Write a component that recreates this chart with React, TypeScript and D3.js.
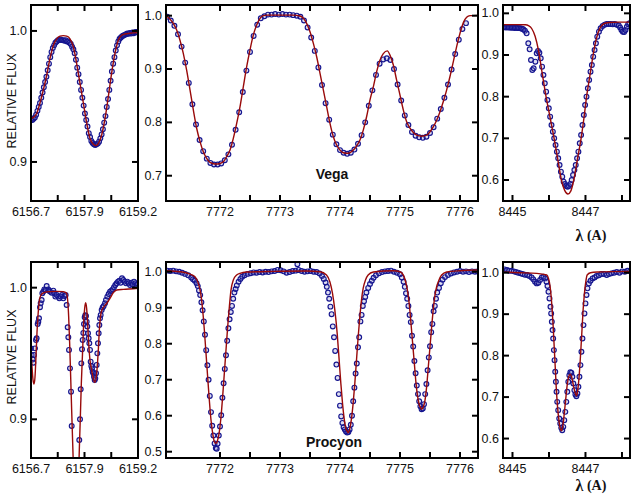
import React from 'react';
import * as d3 from 'd3';

type Pt = [number, number];

// ---------------- Vega ----------------
const vegaFeModel: Pt[] = [[6156.70,0.933],[6156.755,0.934],[6156.832,0.937],[6156.91,0.945],[6156.988,0.955],[6157.066,0.966],[6157.144,0.979],[6157.222,0.989],[6157.30,0.994],[6157.378,0.996],[6157.455,0.9964],[6157.533,0.996],[6157.611,0.994],[6157.689,0.988],[6157.767,0.975],[6157.845,0.960],[6157.923,0.945],[6158.0,0.930],[6158.078,0.918],[6158.156,0.9135],[6158.219,0.9125],[6158.273,0.914],[6158.351,0.9206],[6158.429,0.933],[6158.507,0.950],[6158.585,0.968],[6158.663,0.983],[6158.741,0.9931],[6158.818,0.9967],[6158.896,0.9977],[6159.013,0.9982],[6159.2,0.9987]];
const vegaFeObs: Pt[] = [[6156.70,0.932],[6156.73,0.932],[6156.76,0.933],[6156.79,0.934],[6156.82,0.936],[6156.85,0.939],[6156.88,0.942],[6156.91,0.945],[6156.94,0.949],[6156.97,0.953],[6157.00,0.957],[6157.03,0.961],[6157.06,0.965],[6157.09,0.970],[6157.12,0.975],[6157.15,0.980],[6157.18,0.984],[6157.21,0.987],[6157.24,0.989],[6157.27,0.991],[6157.30,0.992],[6157.33,0.993],[6157.36,0.993],[6157.39,0.9935],[6157.42,0.993],[6157.45,0.993],[6157.48,0.9925],[6157.51,0.993],[6157.54,0.992],[6157.57,0.992],[6157.60,0.991],[6157.63,0.990],[6157.66,0.988],[6157.69,0.986],[6157.72,0.983],[6157.75,0.978],[6157.78,0.972],[6157.81,0.967],[6157.84,0.961],[6157.87,0.955],[6157.90,0.949],[6157.93,0.943],[6157.96,0.937],[6157.99,0.932],[6158.02,0.927],[6158.05,0.922],[6158.08,0.919],[6158.11,0.916],[6158.14,0.9145],[6158.17,0.9135],[6158.20,0.913],[6158.23,0.9135],[6158.26,0.914],[6158.29,0.9155],[6158.32,0.918],[6158.35,0.921],[6158.38,0.925],[6158.41,0.930],[6158.44,0.935],[6158.47,0.942],[6158.50,0.948],[6158.53,0.955],[6158.56,0.962],[6158.59,0.969],[6158.62,0.975],[6158.65,0.980],[6158.68,0.985],[6158.71,0.989],[6158.74,0.992],[6158.77,0.994],[6158.80,0.995],[6158.83,0.996],[6158.86,0.9965],[6158.89,0.997],[6158.92,0.9975],[6158.95,0.998],[6158.98,0.9978],[6159.01,0.9985],[6159.04,0.998],[6159.07,0.9988],[6159.10,0.9983],[6159.13,0.999],[6159.16,0.9992],[6159.19,0.9988]];

const vegaOModel: Pt[] = [[7771.111,0.9994],[7771.222,0.9856],[7771.278,0.973],[7771.333,0.954],[7771.389,0.929],[7771.444,0.898],[7771.5,0.861],[7771.556,0.823],[7771.611,0.789],[7771.667,0.764],[7771.722,0.745],[7771.778,0.7325],[7771.833,0.725],[7771.917,0.722],[7772.0,0.723],[7772.056,0.726],[7772.111,0.736],[7772.167,0.748],[7772.222,0.770],[7772.278,0.798],[7772.333,0.829],[7772.389,0.867],[7772.444,0.904],[7772.5,0.936],[7772.556,0.964],[7772.611,0.9825],[7772.667,0.995],[7772.722,1.0],[7772.778,1.001],[7772.889,1.001],[7773.056,1.001],[7773.222,1.001],[7773.333,0.9994],[7773.389,0.995],[7773.444,0.9856],[7773.5,0.97],[7773.556,0.948],[7773.611,0.923],[7773.667,0.892],[7773.722,0.861],[7773.778,0.829],[7773.833,0.798],[7773.889,0.773],[7773.944,0.7575],[7774.0,0.748],[7774.056,0.743],[7774.139,0.742],[7774.222,0.748],[7774.278,0.756],[7774.333,0.767],[7774.389,0.786],[7774.444,0.811],[7774.5,0.842],[7774.556,0.867],[7774.611,0.895],[7774.667,0.917],[7774.722,0.929],[7774.789,0.934],[7774.833,0.926],[7774.889,0.9075],[7774.944,0.879],[7775.0,0.851],[7775.056,0.823],[7775.111,0.801],[7775.167,0.789],[7775.222,0.781],[7775.278,0.776],[7775.361,0.774],[7775.444,0.776],[7775.5,0.7825],[7775.556,0.792],[7775.611,0.804],[7775.667,0.820],[7775.722,0.839],[7775.778,0.861],[7775.833,0.886],[7775.889,0.914],[7775.944,0.942],[7776.0,0.967],[7776.056,0.987],[7776.111,0.997],[7776.167,1.0],[7776.306,1.0006]];
const vegaOObs: Pt[] = [[7771.12,0.998],[7771.18,0.991],[7771.24,0.981],[7771.30,0.965],[7771.36,0.942],[7771.42,0.912],[7771.48,0.874],[7771.54,0.834],[7771.60,0.796],[7771.66,0.767],[7771.72,0.746],[7771.78,0.732],[7771.84,0.724],[7771.90,0.721],[7771.96,0.721],[7772.02,0.723],[7772.08,0.729],[7772.14,0.740],[7772.20,0.758],[7772.26,0.786],[7772.32,0.819],[7772.38,0.857],[7772.44,0.897],[7772.50,0.932],[7772.56,0.962],[7772.62,0.983],[7772.68,0.995],[7772.74,0.999],[7772.80,1.002],[7772.86,1.002],[7772.92,1.003],[7772.98,1.002],[7773.04,1.003],[7773.10,1.002],[7773.16,1.002],[7773.22,1.001],[7773.28,1.0],[7773.34,0.998],[7773.40,0.991],[7773.46,0.978],[7773.52,0.959],[7773.58,0.934],[7773.64,0.903],[7773.70,0.870],[7773.76,0.836],[7773.82,0.805],[7773.88,0.777],[7773.94,0.759],[7774.00,0.748],[7774.06,0.743],[7774.12,0.741],[7774.18,0.743],[7774.24,0.749],[7774.30,0.760],[7774.36,0.776],[7774.42,0.800],[7774.48,0.831],[7774.54,0.860],[7774.60,0.889],[7774.66,0.910],[7774.72,0.918],[7774.78,0.920],[7774.84,0.917],[7774.90,0.900],[7774.96,0.871],[7775.02,0.841],[7775.08,0.813],[7775.14,0.795],[7775.20,0.782],[7775.26,0.775],[7775.32,0.772],[7775.38,0.771],[7775.44,0.773],[7775.50,0.780],[7775.56,0.791],[7775.62,0.807],[7775.68,0.825],[7775.74,0.846],[7775.80,0.871],[7775.86,0.899],[7775.92,0.928],[7775.98,0.955],[7776.04,0.975],[7776.10,0.986]];

const vegaCaModel: Pt[] = [[8444.72,0.973],[8445.1,0.973],[8445.35,0.9725],[8445.45,0.970],[8445.53,0.963],[8445.62,0.945],[8445.71,0.912],[8445.80,0.864],[8445.92,0.80],[8446.03,0.75],[8446.14,0.70],[8446.24,0.65],[8446.34,0.60],[8446.43,0.575],[8446.52,0.5664],[8446.60,0.574],[8446.68,0.60],[8446.78,0.65],[8446.88,0.70],[8446.96,0.75],[8447.03,0.80],[8447.12,0.85],[8447.21,0.90],[8447.30,0.94],[8447.40,0.965],[8447.50,0.975],[8447.65,0.978],[8447.9,0.979],[8448.25,0.979]];
const vegaCaObs: Pt[] = [[8444.74,0.966],[8444.78,0.967],[8444.82,0.966],[8444.86,0.9665],[8444.90,0.966],[8444.94,0.966],[8444.98,0.9655],[8445.02,0.966],[8445.06,0.965],[8445.10,0.9655],[8445.14,0.965],[8445.18,0.9645],[8445.22,0.964],[8445.26,0.963],[8445.295,0.9616],[8445.341,0.958],[8445.387,0.952],[8445.433,0.928],[8445.47,0.9136],[8445.507,0.888],[8445.544,0.864],[8445.58,0.868],[8445.627,0.884],[8445.664,0.904],[8445.70,0.9096],[8445.737,0.9056],[8445.774,0.892],[8445.811,0.872],[8445.848,0.852],[8445.885,0.832],[8445.922,0.812],[8445.958,0.792],[8445.995,0.772],[8446.032,0.752],[8446.069,0.732],[8446.106,0.716],[8446.143,0.70],[8446.18,0.684],[8446.217,0.668],[8446.253,0.652],[8446.29,0.636],[8446.327,0.62],[8446.364,0.608],[8446.401,0.596],[8446.438,0.5904],[8446.475,0.5856],[8446.51,0.584],[8446.548,0.5856],[8446.585,0.5904],[8446.622,0.60],[8446.659,0.612],[8446.696,0.624],[8446.733,0.636],[8446.77,0.652],[8446.806,0.668],[8446.843,0.688],[8446.88,0.708],[8446.917,0.732],[8446.954,0.756],[8446.99,0.78],[8447.028,0.80],[8447.065,0.82],[8447.101,0.84],[8447.138,0.86],[8447.175,0.876],[8447.212,0.896],[8447.249,0.912],[8447.286,0.928],[8447.323,0.944],[8447.369,0.956],[8447.415,0.964],[8447.47,0.9696],[8447.525,0.9728],[8447.58,0.9744],[8447.636,0.9744],[8447.691,0.9744],[8447.747,0.9736],[8447.802,0.9744],[8447.857,0.9728],[8447.912,0.971],[8447.95,0.966],[8447.986,0.96],[8448.023,0.956],[8448.06,0.955],[8448.097,0.96],[8448.134,0.968],[8448.17,0.974],[8448.207,0.976]];

// ---------------- Procyon ----------------
const procFeModel: Pt[] = [[6156.70,0.953],[6156.723,0.94],[6156.747,0.93],[6156.77,0.9268],[6156.793,0.932],[6156.817,0.948],[6156.84,0.966],[6156.864,0.979],[6156.887,0.988],[6156.91,0.9925],[6156.949,0.995],[6156.988,0.996],[6157.066,0.9968],[6157.144,0.997],[6157.30,0.9972],[6157.455,0.997],[6157.494,0.9966],[6157.533,0.9957],[6157.556,0.9906],[6157.58,0.978],[6157.603,0.958],[6157.627,0.9324],[6157.65,0.907],[6157.674,0.8818],[6157.697,0.857],[6157.72,0.83],[6157.744,0.815],[6157.77,0.83],[6157.806,0.852],[6157.829,0.877],[6157.853,0.902],[6157.876,0.9273],[6157.907,0.9527],[6157.93,0.973],[6157.954,0.9843],[6157.977,0.9886],[6158.0,0.9843],[6158.023,0.973],[6158.047,0.958],[6158.078,0.945],[6158.117,0.9375],[6158.156,0.931],[6158.188,0.928],[6158.234,0.935],[6158.273,0.9527],[6158.297,0.968],[6158.328,0.979],[6158.359,0.983],[6158.406,0.9856],[6158.468,0.988],[6158.546,0.9919],[6158.624,0.9962],[6158.702,0.9982],[6158.857,0.9987],[6159.091,0.9992],[6159.208,0.9995]];
const procFeObs: Pt[] = [[6156.700,0.9539],[6156.716,0.9489],[6156.739,0.9455],[6156.755,0.943],[6156.770,0.9489],[6156.793,0.9539],[6156.817,0.9603],[6156.832,0.9615],[6156.856,0.9724],[6156.871,0.9742],[6156.887,0.9767],[6156.910,0.9851],[6156.926,0.9881],[6156.949,0.9906],[6156.965,0.9957],[6156.988,0.997],[6157.012,0.9987],[6157.043,0.9982],[6157.066,1.0013],[6157.105,0.9987],[6157.128,0.9977],[6157.144,0.997],[6157.183,0.9962],[6157.222,0.9977],[6157.245,0.9957],[6157.269,0.9932],[6157.300,0.9944],[6157.339,0.9932],[6157.362,0.9919],[6157.393,0.9932],[6157.424,0.9944],[6157.455,0.9919],[6157.479,0.9937],[6157.510,0.9944],[6157.533,0.9868],[6157.557,0.9699],[6157.572,0.9623],[6157.588,0.9527],[6157.611,0.9387],[6157.635,0.921],[6157.651,0.8949],[6157.828,0.8843],[6157.845,0.9],[6157.861,0.9228],[6157.876,0.9425],[6157.892,0.9532],[6157.907,0.9603],[6157.923,0.9656],[6157.938,0.9724],[6157.954,0.9776],[6157.969,0.979],[6157.985,0.9785],[6158.001,0.9742],[6158.016,0.9705],[6158.032,0.9653],[6158.047,0.9615],[6158.063,0.9577],[6158.079,0.9527],[6158.094,0.9438],[6158.110,0.9405],[6158.125,0.9387],[6158.141,0.9362],[6158.156,0.935],[6158.172,0.9324],[6158.188,0.9299],[6158.203,0.9311],[6158.219,0.935],[6158.234,0.9413],[6158.250,0.9501],[6158.265,0.9577],[6158.281,0.9653],[6158.297,0.9716],[6158.312,0.9767],[6158.328,0.9792],[6158.351,0.983],[6158.374,0.985],[6158.398,0.9861],[6158.429,0.9881],[6158.452,0.9906],[6158.484,0.9932],[6158.515,0.9952],[6158.546,0.997],[6158.577,0.9977],[6158.608,0.9987],[6158.639,1.0003],[6158.670,1.002],[6158.702,1.0033],[6158.733,1.0046],[6158.764,1.0053],[6158.795,1.0038],[6158.826,1.0071],[6158.857,1.0058],[6158.888,1.0046],[6158.920,1.0033],[6158.951,1.0046],[6158.982,1.0033],[6159.013,1.002],[6159.044,1.0038],[6159.075,1.0025],[6159.107,1.0046],[6159.138,1.0033],[6159.169,1.002],[6159.200,1.0028]];

const procOModel: Pt[] = [[7771.1,1.0028],[7771.333,1.0],[7771.5,0.9935],[7771.583,0.9861],[7771.639,0.9676],[7771.678,0.9398],[7771.711,0.8935],[7771.739,0.838],[7771.767,0.7731],[7771.794,0.7083],[7771.822,0.6435],[7771.85,0.588],[7771.878,0.5509],[7771.906,0.5278],[7771.933,0.5231],[7771.961,0.5324],[7771.989,0.5556],[7772.017,0.5972],[7772.044,0.6528],[7772.072,0.7176],[7772.1,0.7824],[7772.128,0.8472],[7772.156,0.9028],[7772.183,0.9491],[7772.222,0.9769],[7772.278,0.9907],[7772.333,0.9954],[7772.444,0.9991],[7772.889,1.0009],[7773.444,1.0019],[7773.667,1.0],[7773.775,0.9907],[7773.831,0.9722],[7773.875,0.9398],[7773.914,0.8935],[7773.953,0.8287],[7773.986,0.7546],[7774.014,0.6898],[7774.042,0.6343],[7774.069,0.5926],[7774.097,0.5648],[7774.125,0.5556],[7774.136,0.5528],[7774.164,0.5648],[7774.192,0.5926],[7774.219,0.6343],[7774.247,0.6898],[7774.275,0.7546],[7774.303,0.8194],[7774.331,0.875],[7774.358,0.9213],[7774.386,0.9537],[7774.425,0.9769],[7774.469,0.9907],[7774.556,0.9991],[7774.889,1.0028],[7775.0,1.0],[7775.056,0.9907],[7775.094,0.9722],[7775.128,0.9444],[7775.156,0.9074],[7775.183,0.8565],[7775.211,0.8009],[7775.239,0.7454],[7775.267,0.6898],[7775.294,0.6528],[7775.322,0.6296],[7775.35,0.6204],[7775.361,0.6176],[7775.389,0.625],[7775.417,0.6435],[7775.444,0.6806],[7775.472,0.7361],[7775.5,0.7917],[7775.528,0.8472],[7775.556,0.8981],[7775.583,0.9352],[7775.611,0.9583],[7775.65,0.9769],[7775.694,0.9907],[7775.778,0.9991],[7776.0,1.0028],[7776.306,1.0046]];
const procOObs: Pt[] = [[7771.12,1.003],[7771.17,1.002],[7771.22,1.003],[7771.27,1.001],[7771.32,1.0],[7771.37,0.997],[7771.42,0.994],[7771.47,0.990],[7771.52,0.984],[7771.55,0.979],[7771.58,0.975],[7771.61,0.968],[7771.63,0.960],[7771.65,0.948],[7771.67,0.935],[7771.69,0.915],[7771.71,0.893],[7771.73,0.862],[7771.75,0.825],[7771.77,0.782],[7771.79,0.740],[7771.81,0.700],[7771.83,0.655],[7771.85,0.610],[7771.87,0.572],[7771.89,0.545],[7771.91,0.523],[7771.93,0.510],[7771.945,0.508],[7771.96,0.522],[7771.98,0.545],[7772.00,0.570],[7772.02,0.601],[7772.04,0.650],[7772.06,0.690],[7772.08,0.730],[7772.10,0.768],[7772.12,0.808],[7772.14,0.843],[7772.16,0.868],[7772.18,0.888],[7772.20,0.905],[7772.22,0.925],[7772.24,0.942],[7772.26,0.952],[7772.28,0.962],[7772.31,0.972],[7772.34,0.980],[7772.37,0.986],[7772.41,0.990],[7772.46,0.994],[7772.51,0.996],[7772.56,0.998],[7772.61,0.997],[7772.66,0.999],[7772.71,0.998],[7772.76,1.0],[7772.81,0.999],[7772.86,1.001],[7772.91,1.002],[7772.96,1.005],[7773.01,1.004],[7773.06,1.001],[7773.11,0.997],[7773.16,0.999],[7773.21,1.002],[7773.26,1.003],[7773.29,1.021],[7773.31,1.005],[7773.36,1.002],[7773.41,1.0],[7773.46,1.001],[7773.51,1.002],[7773.56,1.0],[7773.61,0.999],[7773.66,0.995],[7773.70,0.988],[7773.73,0.980],[7773.76,0.970],[7773.78,0.958],[7773.80,0.942],[7773.82,0.925],[7773.84,0.903],[7773.86,0.882],[7773.88,0.848],[7773.90,0.818],[7773.92,0.780],[7773.94,0.742],[7773.96,0.705],[7773.98,0.660],[7774.00,0.628],[7774.02,0.598],[7774.04,0.580],[7774.06,0.568],[7774.08,0.562],[7774.10,0.556],[7774.12,0.553],[7774.14,0.555],[7774.16,0.562],[7774.18,0.575],[7774.20,0.600],[7774.22,0.640],[7774.24,0.678],[7774.26,0.717],[7774.28,0.745],[7774.30,0.790],[7774.32,0.818],[7774.34,0.862],[7774.36,0.880],[7774.38,0.905],[7774.40,0.918],[7774.42,0.930],[7774.44,0.942],[7774.47,0.955],[7774.50,0.966],[7774.53,0.975],[7774.56,0.983],[7774.60,0.990],[7774.65,0.996],[7774.70,0.999],[7774.75,1.001],[7774.80,1.002],[7774.85,1.003],[7774.90,1.0],[7774.95,0.997],[7775.00,0.993],[7775.03,0.984],[7775.06,0.972],[7775.08,0.958],[7775.10,0.940],[7775.12,0.925],[7775.14,0.905],[7775.16,0.880],[7775.18,0.860],[7775.20,0.822],[7775.22,0.792],[7775.24,0.752],[7775.26,0.718],[7775.28,0.684],[7775.30,0.660],[7775.32,0.640],[7775.34,0.626],[7775.36,0.618],[7775.38,0.620],[7775.40,0.632],[7775.42,0.660],[7775.44,0.688],[7775.46,0.726],[7775.48,0.762],[7775.50,0.793],[7775.52,0.832],[7775.54,0.855],[7775.56,0.890],[7775.58,0.905],[7775.60,0.925],[7775.62,0.942],[7775.65,0.955],[7775.68,0.968],[7775.71,0.978],[7775.75,0.985],[7775.80,0.991],[7775.85,0.995],[7775.90,0.998],[7775.95,1.0],[7776.00,1.002],[7776.05,1.0],[7776.10,1.001],[7776.15,0.999],[7776.20,1.001],[7776.25,1.0],[7776.29,1.001]];

const procCaModel: Pt[] = [[8444.724,1.0016],[8445.203,1.0],[8445.664,0.9984],[8445.94,0.9944],[8445.986,0.9863],[8446.032,0.9662],[8446.06,0.942],[8446.088,0.9099],[8446.115,0.8696],[8446.143,0.8213],[8446.171,0.773],[8446.198,0.7247],[8446.235,0.6765],[8446.272,0.6443],[8446.309,0.6241],[8446.346,0.6185],[8446.382,0.6322],[8446.419,0.6604],[8446.456,0.6926],[8446.493,0.7247],[8446.539,0.7489],[8446.585,0.7553],[8446.631,0.7449],[8446.677,0.7247],[8446.724,0.7087],[8446.751,0.703],[8446.788,0.7167],[8446.825,0.7489],[8446.862,0.7971],[8446.899,0.8535],[8446.935,0.9099],[8446.972,0.9501],[8447.009,0.9783],[8447.046,0.9944],[8447.138,1.0],[8447.323,1.0016],[8448.244,1.0032]];
const procCaObs: Pt[] = [[8444.724,1.0064],[8444.788,1.008],[8444.853,1.0064],[8444.908,1.0048],[8444.972,1.0048],[8445.037,1.0032],[8445.092,1.0016],[8445.157,1.0],[8445.221,0.9984],[8445.276,0.9968],[8445.341,0.9952],[8445.406,0.9944],[8445.461,0.992],[8445.525,0.9887],[8445.571,0.9839],[8445.618,0.9783],[8445.664,0.9742],[8445.71,0.9759],[8445.756,0.9823],[8445.802,0.9887],[8445.848,0.9903],[8445.894,0.9863],[8445.931,0.9783],[8445.959,0.9678],[8445.986,0.9541],[8446.014,0.938],[8446.041,0.9179],[8446.06,0.9018],[8446.078,0.8817],[8446.097,0.8616],[8446.115,0.8414],[8446.134,0.8133],[8446.152,0.7891],[8446.171,0.761],[8446.189,0.7368],[8446.207,0.7127],[8446.226,0.6885],[8446.253,0.6684],[8446.281,0.6483],[8446.309,0.6362],[8446.336,0.6258],[8446.364,0.6201],[8446.392,0.6282],[8446.419,0.6443],[8446.447,0.6644],[8446.475,0.6885],[8446.502,0.7127],[8446.53,0.7368],[8446.558,0.7529],[8446.585,0.7602],[8446.613,0.7586],[8446.641,0.7489],[8446.668,0.7328],[8446.696,0.7167],[8446.724,0.7062],[8446.751,0.7022],[8446.779,0.7087],[8446.806,0.7247],[8446.834,0.7489],[8446.862,0.7771],[8446.889,0.8093],[8446.917,0.8414],[8446.945,0.8736],[8446.972,0.9018],[8447.0,0.926],[8447.028,0.9461],[8447.055,0.9622],[8447.092,0.9742],[8447.138,0.9807],[8447.194,0.9863],[8447.249,0.9887],[8447.304,0.992],[8447.369,0.9936],[8447.433,0.9968],[8447.507,0.9968],[8447.581,0.9944],[8447.645,0.9968],[8447.71,0.9984],[8447.783,1.0],[8447.857,1.0016],[8447.931,1.0],[8448.005,1.0032],[8448.078,1.0024],[8448.152,1.0048],[8448.226,1.004]];

// ---------------- ticks ----------------
const feXTicks = [6156.7, 6157.325, 6157.95, 6158.575, 6159.2];
const feXLabels = ['6156.7', '', '6157.9', '', '6159.2'];
const oXTicks = [7772, 7772.5, 7773, 7773.5, 7774, 7774.5, 7775, 7775.5, 7776];
const oXLabels = ['7772', '', '7773', '', '7774', '', '7775', '', '7776'];
const caXTicks = [8445, 8446, 8447, 8448];
const caXLabels = ['8445', '', '8447', ''];
const feYTicks = [0.9, 1.0];
const vegaOYTicks = [0.7, 0.8, 0.9, 1.0];
const caYTicks = [0.6, 0.7, 0.8, 0.9, 1.0];
const procOYTicks = [0.5, 0.6, 0.7, 0.8, 0.9, 1.0];
const starNames = ['Vega', 'Procyon'];
const yTitle = 'RELATIVE FLUX';

interface PanelSpec {
  id: string; left: number; right: number; top: number; bottom: number;
  xDomain: [number, number]; yDomain: [number, number];
  xTicks: number[]; xLabels: string[]; yTicks: number[];
  model: Pt[]; obs: Pt[];
}

const TOP = { top: 5, bottom: 201 };
const BOT = { top: 262, bottom: 458 };
const COL1 = { left: 31, right: 138 };
const COL2 = { left: 166, right: 478 };
const COL3 = { left: 503, right: 630 };

const panels: PanelSpec[] = [
  { id: 'p1', ...COL1, ...TOP, xDomain: [6156.7, 6159.2], yDomain: [0.8702, 1.0198], xTicks: feXTicks, xLabels: feXLabels, yTicks: feYTicks, model: vegaFeModel, obs: vegaFeObs },
  { id: 'p2', ...COL2, ...TOP, xDomain: [7771.1, 7776.3], yDomain: [0.6526, 1.020], xTicks: oXTicks, xLabels: oXLabels, yTicks: vegaOYTicks, model: vegaOModel, obs: vegaOObs },
  { id: 'p3', ...COL3, ...TOP, xDomain: [8444.74, 8448.22], yDomain: [0.5496, 1.020], xTicks: caXTicks, xLabels: caXLabels, yTicks: caYTicks, model: vegaCaModel, obs: vegaCaObs },
  { id: 'p4', ...COL1, ...BOT, xDomain: [6156.7, 6159.2], yDomain: [0.8706, 1.0195], xTicks: feXTicks, xLabels: feXLabels, yTicks: feYTicks, model: procFeModel, obs: procFeObs },
  { id: 'p5', ...COL2, ...BOT, xDomain: [7771.1, 7776.3], yDomain: [0.4825, 1.027], xTicks: oXTicks, xLabels: oXLabels, yTicks: procOYTicks, model: procOModel, obs: procOObs },
  { id: 'p6', ...COL3, ...BOT, xDomain: [8444.74, 8448.22], yDomain: [0.5531, 1.0258], xTicks: caXTicks, xLabels: caXLabels, yTicks: caYTicks, model: procCaModel, obs: procCaObs },
];

const FONT = 'Liberation Sans, Arial, Helvetica, sans-serif';
const LINE_COLOR = '#990a0a';
const DOT_COLOR = '#15158f';
const TICK = 6;

function Panel({ p }: { p: PanelSpec }) {
  const x = d3.scaleLinear().domain(p.xDomain).range([p.left, p.right]);
  const y = d3.scaleLinear().domain(p.yDomain).range([p.bottom, p.top]);
  const line = d3.line<Pt>().x(d => x(d[0])).y(d => y(d[1])).curve(d3.curveMonotoneX);
  const fmt = d3.format('.1f');
  return (
    <g>
      <defs>
        <clipPath id={`clip-${p.id}`}>
          <rect x={p.left} y={p.top} width={p.right - p.left} height={p.bottom - p.top} />
        </clipPath>
      </defs>
      <g clipPath={`url(#clip-${p.id})`}>
        {p.obs.map((d, i) => (
          <circle key={i} cx={x(d[0])} cy={y(d[1])} r={2.4} fill="rgba(120,120,200,0.25)" stroke={DOT_COLOR} strokeWidth={1.15} />
        ))}
        <path d={line(p.model) || ''} fill="none" stroke={LINE_COLOR} strokeWidth={1.4} />
      </g>
      {p.xTicks.map((t, i) => (
        <g key={'xt' + i}>
          <line x1={x(t)} x2={x(t)} y1={p.bottom} y2={p.bottom - TICK} stroke="#000" strokeWidth={2} />
          <line x1={x(t)} x2={x(t)} y1={p.top} y2={p.top + TICK} stroke="#000" strokeWidth={2} />
          {p.xLabels[i] ? (
            <text x={x(t)} y={p.bottom + 11} textAnchor="middle" dominantBaseline="central" fontFamily={FONT} fontSize={12.5} fill="#111">{p.xLabels[i]}</text>
          ) : null}
        </g>
      ))}
      {p.yTicks.map((t, i) => (
        <g key={'yt' + i}>
          <line x1={p.left} x2={p.left + TICK} y1={y(t)} y2={y(t)} stroke="#000" strokeWidth={2} />
          <line x1={p.right} x2={p.right - TICK} y1={y(t)} y2={y(t)} stroke="#000" strokeWidth={2} />
          <text x={p.left - 4} y={y(t)} textAnchor="end" dominantBaseline="central" fontFamily={FONT} fontSize={12.5} fill="#111">{fmt(t)}</text>
        </g>
      ))}
      <rect x={p.left} y={p.top} width={p.right - p.left} height={p.bottom - p.top} fill="none" stroke="#000" strokeWidth={2} />
    </g>
  );
}

export default function App() {
  return (
    <svg width={631} height={498} style={{ position: 'absolute', left: 0, top: 0, background: '#fff' }}>
      <rect x={0} y={0} width={631} height={498} fill="#fff" />
      {panels.map(p => <Panel key={p.id} p={p} />)}
      {[101, 357].map((cy, i) => (
        <text key={'yl' + i} transform={`translate(12,${cy}) rotate(-90)`} textAnchor="middle" dominantBaseline="central" fontFamily={FONT} fontSize={12.5} fill="#111">{yTitle}</text>
      ))}
      <text x={332} y={174} textAnchor="middle" dominantBaseline="central" fontFamily={FONT} fontSize={14} fontWeight="bold" fill="#111">{starNames[0]}</text>
      <text x={334} y={442} textAnchor="middle" dominantBaseline="central" fontFamily={FONT} fontSize={14} fontWeight="bold" fill="#111">{starNames[1]}</text>
      {[235, 485].map((cy, i) => (
        <text key={'lam' + i} x={591} y={cy} textAnchor="middle" dominantBaseline="central" fontFamily="Liberation Serif, Times New Roman, serif" fontWeight="bold" fill="#111">
          <tspan fontSize={16}>λ</tspan><tspan fontSize={14}> (A)</tspan>
        </text>
      ))}
    </svg>
  );
}
